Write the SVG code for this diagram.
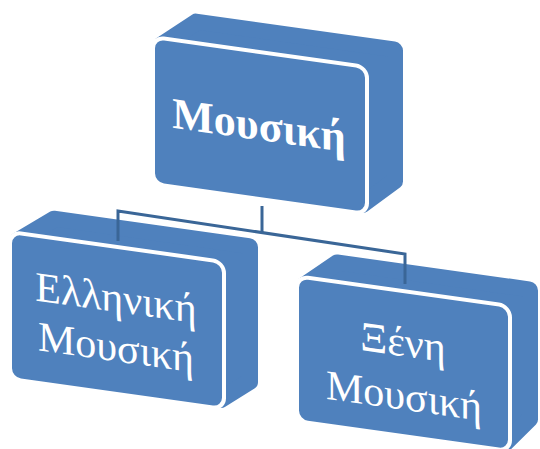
<svg xmlns="http://www.w3.org/2000/svg" width="540" height="449" viewBox="0 0 540 449">
  <style>
    .depth { fill: #4F81BD; stroke: #4F81BD; stroke-width: 16; stroke-linejoin: round; }
    .face { fill: #4F81BD; stroke: #FFFFFF; stroke-width: 4; }
    .txt { font-family: "Liberation Serif", "DejaVu Serif", serif; fill: #FFFFFF; text-anchor: middle; }
    .t1 { font-size: 44px; font-weight: bold; }
    .t2 { font-size: 42px; }
    .conn { fill: none; stroke: #3A6697; stroke-width: 3; }
  </style>
  <rect width="540" height="449" fill="#FFFFFF"/>
  <g id="node-musiki" transform="matrix(1,0.1405,0,1,0,0)">
    <polygon class="depth" points="161,154 162,22 197,-6 395,-6 395,125 362,154"/>
    <rect class="face" x="153" y="15.5" width="214" height="147" rx="11"/>
    <text class="txt t1" x="259" y="103.5">Μουσική</text>
  </g>
  <g id="node-elliniki" transform="matrix(1,0.1405,0,1,0,0)">
    <polygon class="depth" points="18,369 18,238 55,211 250,211 250,346 220,369"/>
    <rect class="face" x="10" y="230.5" width="214" height="147" rx="11"/>
    <text class="txt t2" x="116" y="295.5">Ελληνική</text>
    <text class="txt t2" x="116" y="345">Μουσική</text>
  </g>
  <g id="node-xeni" transform="matrix(1,0.1405,0,1,0,0)">
    <polygon class="depth" points="305,371 305,242 338,215 530,215 530,344 506,371"/>
    <rect class="face" x="297" y="234.5" width="213" height="145" rx="11"/>
    <text class="txt t2" x="403" y="299.5">Ξένη</text>
    <text class="txt t2" x="404" y="353">Μουσική</text>
  </g>
  <g id="connectors">
    <path class="conn" d="M262,206 V232.6"/>
    <path class="conn" d="M118,241 V211 L405,254 V284"/>
  </g>
</svg>
